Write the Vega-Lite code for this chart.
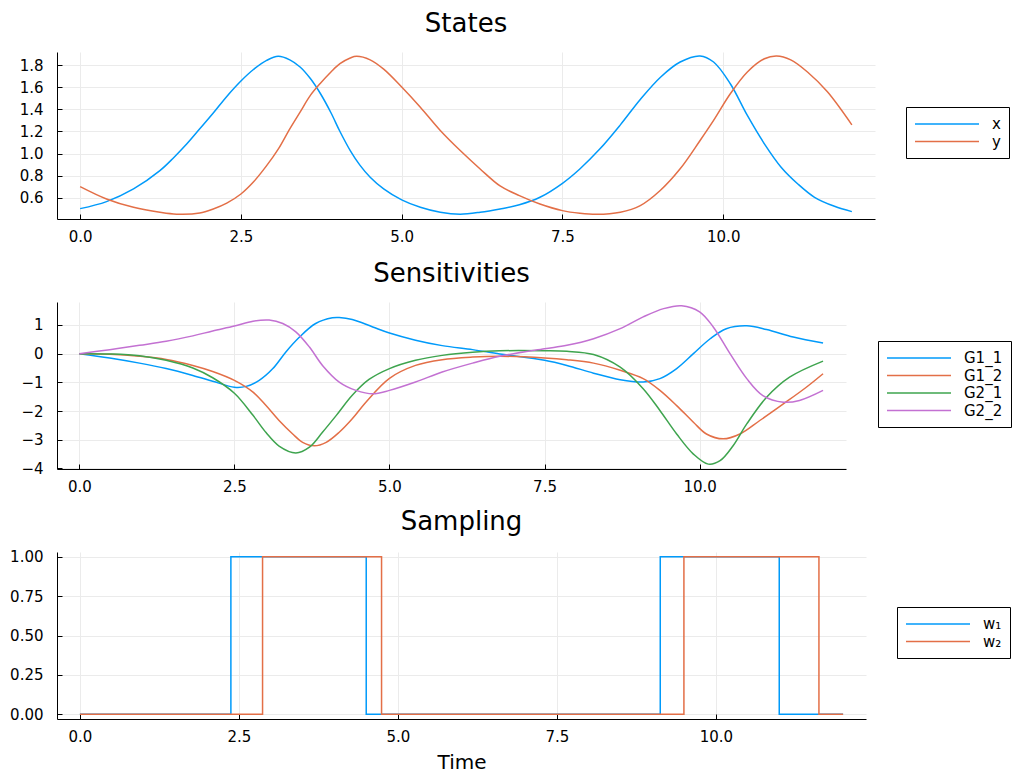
{
  "$schema": "https://vega.github.io/schema/vega-lite/v6.json",
  "padding": {"left": 9, "top": 11, "right": 0, "bottom": 0},
  "bounds": "flush",
  "spacing": 83,
  "datasets": {
    "states": [
      {"t": 0, "v": 0.5, "s": "x"}, {"t": 0.41, "v": 0.564, "s": "x"}, {"t": 0.83, "v": 0.679, "s": "x"}, {"t": 1.24, "v": 0.845, "s": "x"}, {"t": 1.45, "v": 0.96, "s": "x"}, {"t": 1.66, "v": 1.088, "s": "x"}, {"t": 1.86, "v": 1.224, "s": "x"}, {"t": 2.07, "v": 1.367, "s": "x"}, {"t": 2.28, "v": 1.518, "s": "x"}, {"t": 2.5, "v": 1.658, "s": "x"}, {"t": 2.69, "v": 1.76, "s": "x"}, {"t": 2.9, "v": 1.845, "s": "x"}, {"t": 3.08, "v": 1.882, "s": "x"}, {"t": 3.26, "v": 1.85, "s": "x"}, {"t": 3.42, "v": 1.785, "s": "x"}, {"t": 3.58, "v": 1.68, "s": "x"}, {"t": 3.74, "v": 1.54, "s": "x"}, {"t": 3.9, "v": 1.37, "s": "x"}, {"t": 4.04, "v": 1.2, "s": "x"}, {"t": 4.2, "v": 1.027, "s": "x"}, {"t": 4.35, "v": 0.895, "s": "x"}, {"t": 4.51, "v": 0.785, "s": "x"}, {"t": 4.72, "v": 0.679, "s": "x"}, {"t": 5.0, "v": 0.579, "s": "x"}, {"t": 5.29, "v": 0.512, "s": "x"}, {"t": 5.6, "v": 0.467, "s": "x"}, {"t": 5.91, "v": 0.45, "s": "x"}, {"t": 6.22, "v": 0.467, "s": "x"}, {"t": 6.53, "v": 0.497, "s": "x"}, {"t": 6.83, "v": 0.535, "s": "x"}, {"t": 7.15, "v": 0.603, "s": "x"}, {"t": 7.5, "v": 0.73, "s": "x"}, {"t": 7.77, "v": 0.86, "s": "x"}, {"t": 8.08, "v": 1.04, "s": "x"}, {"t": 8.4, "v": 1.26, "s": "x"}, {"t": 8.71, "v": 1.49, "s": "x"}, {"t": 9.02, "v": 1.69, "s": "x"}, {"t": 9.33, "v": 1.83, "s": "x"}, {"t": 9.64, "v": 1.885, "s": "x"}, {"t": 9.85, "v": 1.83, "s": "x"}, {"t": 10.11, "v": 1.633, "s": "x"}, {"t": 10.375, "v": 1.345, "s": "x"}, {"t": 10.64, "v": 1.088, "s": "x"}, {"t": 10.9, "v": 0.876, "s": "x"}, {"t": 11.16, "v": 0.724, "s": "x"}, {"t": 11.42, "v": 0.603, "s": "x"}, {"t": 11.73, "v": 0.521, "s": "x"}, {"t": 12.0, "v": 0.473, "s": "x"},
      {"t": 0, "v": 0.7, "s": "y"}, {"t": 0.41, "v": 0.588, "s": "y"}, {"t": 0.83, "v": 0.512, "s": "y"}, {"t": 1.24, "v": 0.467, "s": "y"}, {"t": 1.5, "v": 0.45, "s": "y"}, {"t": 1.86, "v": 0.46, "s": "y"}, {"t": 2.07, "v": 0.497, "s": "y"}, {"t": 2.28, "v": 0.55, "s": "y"}, {"t": 2.5, "v": 0.633, "s": "y"}, {"t": 2.69, "v": 0.739, "s": "y"}, {"t": 2.9, "v": 0.89, "s": "y"}, {"t": 3.08, "v": 1.04, "s": "y"}, {"t": 3.26, "v": 1.224, "s": "y"}, {"t": 3.42, "v": 1.376, "s": "y"}, {"t": 3.58, "v": 1.527, "s": "y"}, {"t": 3.74, "v": 1.64, "s": "y"}, {"t": 3.9, "v": 1.74, "s": "y"}, {"t": 4.04, "v": 1.815, "s": "y"}, {"t": 4.2, "v": 1.867, "s": "y"}, {"t": 4.3, "v": 1.882, "s": "y"}, {"t": 4.51, "v": 1.85, "s": "y"}, {"t": 4.72, "v": 1.765, "s": "y"}, {"t": 5.0, "v": 1.603, "s": "y"}, {"t": 5.29, "v": 1.42, "s": "y"}, {"t": 5.6, "v": 1.209, "s": "y"}, {"t": 5.91, "v": 1.027, "s": "y"}, {"t": 6.22, "v": 0.86, "s": "y"}, {"t": 6.53, "v": 0.706, "s": "y"}, {"t": 6.83, "v": 0.618, "s": "y"}, {"t": 7.15, "v": 0.542, "s": "y"}, {"t": 7.5, "v": 0.482, "s": "y"}, {"t": 7.77, "v": 0.458, "s": "y"}, {"t": 8.03, "v": 0.448, "s": "y"}, {"t": 8.4, "v": 0.467, "s": "y"}, {"t": 8.71, "v": 0.527, "s": "y"}, {"t": 9.02, "v": 0.664, "s": "y"}, {"t": 9.33, "v": 0.861, "s": "y"}, {"t": 9.64, "v": 1.118, "s": "y"}, {"t": 9.85, "v": 1.3, "s": "y"}, {"t": 10.11, "v": 1.542, "s": "y"}, {"t": 10.375, "v": 1.74, "s": "y"}, {"t": 10.64, "v": 1.86, "s": "y"}, {"t": 10.83, "v": 1.885, "s": "y"}, {"t": 11.05, "v": 1.85, "s": "y"}, {"t": 11.31, "v": 1.74, "s": "y"}, {"t": 11.62, "v": 1.56, "s": "y"}, {"t": 12.0, "v": 1.26, "s": "y"}
    ],
    "sens": [
      {"t": 0, "v": 0, "s": "G1_1"}, {"t": 0.49, "v": -0.15, "s": "G1_1"}, {"t": 0.97, "v": -0.33, "s": "G1_1"}, {"t": 1.4, "v": -0.52, "s": "G1_1"}, {"t": 1.83, "v": -0.76, "s": "G1_1"}, {"t": 2.15, "v": -0.96, "s": "G1_1"}, {"t": 2.5, "v": -1.17, "s": "G1_1"}, {"t": 2.69, "v": -1.14, "s": "G1_1"}, {"t": 2.9, "v": -0.93, "s": "G1_1"}, {"t": 3.12, "v": -0.52, "s": "G1_1"}, {"t": 3.33, "v": 0.06, "s": "G1_1"}, {"t": 3.55, "v": 0.58, "s": "G1_1"}, {"t": 3.81, "v": 1.05, "s": "G1_1"}, {"t": 4.08, "v": 1.25, "s": "G1_1"}, {"t": 4.19, "v": 1.26, "s": "G1_1"}, {"t": 4.4, "v": 1.19, "s": "G1_1"}, {"t": 4.73, "v": 0.93, "s": "G1_1"}, {"t": 5.0, "v": 0.72, "s": "G1_1"}, {"t": 5.42, "v": 0.47, "s": "G1_1"}, {"t": 5.85, "v": 0.28, "s": "G1_1"}, {"t": 6.34, "v": 0.14, "s": "G1_1"}, {"t": 6.78, "v": -0.01, "s": "G1_1"}, {"t": 7.5, "v": -0.23, "s": "G1_1"}, {"t": 7.86, "v": -0.41, "s": "G1_1"}, {"t": 8.29, "v": -0.68, "s": "G1_1"}, {"t": 8.72, "v": -0.91, "s": "G1_1"}, {"t": 9.09, "v": -0.99, "s": "G1_1"}, {"t": 9.36, "v": -0.87, "s": "G1_1"}, {"t": 9.63, "v": -0.52, "s": "G1_1"}, {"t": 9.9, "v": 0.0, "s": "G1_1"}, {"t": 10.17, "v": 0.52, "s": "G1_1"}, {"t": 10.43, "v": 0.87, "s": "G1_1"}, {"t": 10.76, "v": 0.97, "s": "G1_1"}, {"t": 11.08, "v": 0.84, "s": "G1_1"}, {"t": 11.51, "v": 0.58, "s": "G1_1"}, {"t": 11.99, "v": 0.37, "s": "G1_1"},
      {"t": 0, "v": 0, "s": "G1_2"}, {"t": 0.49, "v": -0.02, "s": "G1_2"}, {"t": 0.97, "v": -0.09, "s": "G1_2"}, {"t": 1.4, "v": -0.2, "s": "G1_2"}, {"t": 1.83, "v": -0.41, "s": "G1_2"}, {"t": 2.15, "v": -0.62, "s": "G1_2"}, {"t": 2.5, "v": -0.93, "s": "G1_2"}, {"t": 2.8, "v": -1.34, "s": "G1_2"}, {"t": 3.01, "v": -1.81, "s": "G1_2"}, {"t": 3.22, "v": -2.33, "s": "G1_2"}, {"t": 3.44, "v": -2.8, "s": "G1_2"}, {"t": 3.6, "v": -3.09, "s": "G1_2"}, {"t": 3.79, "v": -3.21, "s": "G1_2"}, {"t": 3.98, "v": -3.09, "s": "G1_2"}, {"t": 4.19, "v": -2.74, "s": "G1_2"}, {"t": 4.4, "v": -2.27, "s": "G1_2"}, {"t": 4.62, "v": -1.69, "s": "G1_2"}, {"t": 5.0, "v": -0.86, "s": "G1_2"}, {"t": 5.42, "v": -0.41, "s": "G1_2"}, {"t": 5.85, "v": -0.21, "s": "G1_2"}, {"t": 6.34, "v": -0.12, "s": "G1_2"}, {"t": 6.78, "v": -0.09, "s": "G1_2"}, {"t": 7.5, "v": -0.15, "s": "G1_2"}, {"t": 7.86, "v": -0.21, "s": "G1_2"}, {"t": 8.29, "v": -0.33, "s": "G1_2"}, {"t": 8.72, "v": -0.58, "s": "G1_2"}, {"t": 9.09, "v": -0.87, "s": "G1_2"}, {"t": 9.36, "v": -1.28, "s": "G1_2"}, {"t": 9.63, "v": -1.81, "s": "G1_2"}, {"t": 9.9, "v": -2.39, "s": "G1_2"}, {"t": 10.11, "v": -2.8, "s": "G1_2"}, {"t": 10.38, "v": -2.97, "s": "G1_2"}, {"t": 10.65, "v": -2.8, "s": "G1_2"}, {"t": 10.97, "v": -2.33, "s": "G1_2"}, {"t": 11.35, "v": -1.75, "s": "G1_2"}, {"t": 11.72, "v": -1.17, "s": "G1_2"}, {"t": 11.99, "v": -0.7, "s": "G1_2"},
      {"t": 0, "v": 0, "s": "G2_1"}, {"t": 0.49, "v": -0.01, "s": "G2_1"}, {"t": 0.97, "v": -0.07, "s": "G2_1"}, {"t": 1.4, "v": -0.23, "s": "G2_1"}, {"t": 1.83, "v": -0.5, "s": "G2_1"}, {"t": 2.15, "v": -0.84, "s": "G2_1"}, {"t": 2.5, "v": -1.38, "s": "G2_1"}, {"t": 2.8, "v": -2.15, "s": "G2_1"}, {"t": 3.01, "v": -2.75, "s": "G2_1"}, {"t": 3.22, "v": -3.22, "s": "G2_1"}, {"t": 3.49, "v": -3.46, "s": "G2_1"}, {"t": 3.71, "v": -3.26, "s": "G2_1"}, {"t": 3.92, "v": -2.74, "s": "G2_1"}, {"t": 4.14, "v": -2.16, "s": "G2_1"}, {"t": 4.4, "v": -1.45, "s": "G2_1"}, {"t": 4.67, "v": -0.9, "s": "G2_1"}, {"t": 5.0, "v": -0.52, "s": "G2_1"}, {"t": 5.42, "v": -0.23, "s": "G2_1"}, {"t": 5.85, "v": -0.06, "s": "G2_1"}, {"t": 6.34, "v": 0.05, "s": "G2_1"}, {"t": 6.78, "v": 0.1, "s": "G2_1"}, {"t": 7.5, "v": 0.1, "s": "G2_1"}, {"t": 7.86, "v": 0.08, "s": "G2_1"}, {"t": 8.29, "v": -0.03, "s": "G2_1"}, {"t": 8.72, "v": -0.47, "s": "G2_1"}, {"t": 9.09, "v": -1.22, "s": "G2_1"}, {"t": 9.36, "v": -1.98, "s": "G2_1"}, {"t": 9.63, "v": -2.8, "s": "G2_1"}, {"t": 9.9, "v": -3.5, "s": "G2_1"}, {"t": 10.14, "v": -3.85, "s": "G2_1"}, {"t": 10.33, "v": -3.73, "s": "G2_1"}, {"t": 10.54, "v": -3.21, "s": "G2_1"}, {"t": 10.76, "v": -2.45, "s": "G2_1"}, {"t": 11.08, "v": -1.52, "s": "G2_1"}, {"t": 11.45, "v": -0.82, "s": "G2_1"}, {"t": 11.99, "v": -0.26, "s": "G2_1"},
      {"t": 0, "v": 0, "s": "G2_2"}, {"t": 0.49, "v": 0.14, "s": "G2_2"}, {"t": 0.97, "v": 0.29, "s": "G2_2"}, {"t": 1.4, "v": 0.43, "s": "G2_2"}, {"t": 1.83, "v": 0.62, "s": "G2_2"}, {"t": 2.15, "v": 0.79, "s": "G2_2"}, {"t": 2.5, "v": 0.96, "s": "G2_2"}, {"t": 2.8, "v": 1.13, "s": "G2_2"}, {"t": 3.06, "v": 1.17, "s": "G2_2"}, {"t": 3.28, "v": 1.05, "s": "G2_2"}, {"t": 3.49, "v": 0.76, "s": "G2_2"}, {"t": 3.71, "v": 0.23, "s": "G2_2"}, {"t": 3.92, "v": -0.41, "s": "G2_2"}, {"t": 4.19, "v": -0.99, "s": "G2_2"}, {"t": 4.46, "v": -1.28, "s": "G2_2"}, {"t": 4.73, "v": -1.4, "s": "G2_2"}, {"t": 5.0, "v": -1.28, "s": "G2_2"}, {"t": 5.42, "v": -0.99, "s": "G2_2"}, {"t": 5.85, "v": -0.64, "s": "G2_2"}, {"t": 6.34, "v": -0.33, "s": "G2_2"}, {"t": 6.78, "v": -0.09, "s": "G2_2"}, {"t": 7.5, "v": 0.17, "s": "G2_2"}, {"t": 7.86, "v": 0.29, "s": "G2_2"}, {"t": 8.29, "v": 0.52, "s": "G2_2"}, {"t": 8.72, "v": 0.87, "s": "G2_2"}, {"t": 9.09, "v": 1.28, "s": "G2_2"}, {"t": 9.42, "v": 1.57, "s": "G2_2"}, {"t": 9.71, "v": 1.67, "s": "G2_2"}, {"t": 10.0, "v": 1.46, "s": "G2_2"}, {"t": 10.22, "v": 0.93, "s": "G2_2"}, {"t": 10.49, "v": 0.0, "s": "G2_2"}, {"t": 10.76, "v": -0.87, "s": "G2_2"}, {"t": 11.02, "v": -1.46, "s": "G2_2"}, {"t": 11.35, "v": -1.69, "s": "G2_2"}, {"t": 11.61, "v": -1.63, "s": "G2_2"}, {"t": 11.99, "v": -1.28, "s": "G2_2"}
    ],
    "samp": [
      {"t": 0, "v": 0, "s": "w₁"}, {"t": 2.374, "v": 1, "s": "w₁"}, {"t": 4.502, "v": 0, "s": "w₁"}, {"t": 9.125, "v": 1, "s": "w₁"}, {"t": 10.996, "v": 0, "s": "w₁"}, {"t": 12, "v": 0, "s": "w₁"},
      {"t": 0, "v": 0, "s": "w₂"}, {"t": 2.872, "v": 1, "s": "w₂"}, {"t": 4.743, "v": 0, "s": "w₂"}, {"t": 9.497, "v": 1, "s": "w₂"}, {"t": 11.62, "v": 0, "s": "w₂"}, {"t": 12, "v": 0, "s": "w₂"}
    ]
  },
  "vconcat": [
    {
      "width": 818, "height": 167,
      "title": {"text": "States"},
      "data": {"name": "states"},
      "mark": {"type": "line", "interpolate": "catmull-rom", "strokeWidth": 1.5, "clip": true},
      "encoding": {
        "x": {"field": "t", "type": "quantitative", "scale": {"domain": [-0.36, 12.36], "nice": false, "zero": false},
              "axis": {"values": [0, 2.5, 5, 7.5, 10], "format": ".1f", "title": null}},
        "y": {"field": "v", "type": "quantitative", "scale": {"domain": [0.406, 1.921], "nice": false, "zero": false},
              "axis": {"values": [0.6, 0.8, 1.0, 1.2, 1.4, 1.6, 1.8], "format": ".1f", "title": null}},
        "color": {"field": "s", "type": "nominal",
                  "scale": {"domain": ["x", "y"], "range": ["#009AFA", "#E36F47"]},
                  "legend": {"legendX": 849, "legendY": 55}}
      }
    },
    {
      "width": 789, "height": 167,
      "title": {"text": "Sensitivities"},
      "data": {"name": "sens"},
      "mark": {"type": "line", "interpolate": "catmull-rom", "strokeWidth": 1.5, "clip": true},
      "encoding": {
        "x": {"field": "t", "type": "quantitative", "scale": {"domain": [-0.36, 12.36], "nice": false, "zero": false},
              "axis": {"values": [0, 2.5, 5, 7.5, 10], "format": ".1f", "title": null}},
        "y": {"field": "v", "type": "quantitative", "scale": {"domain": [-4.02, 1.8], "nice": false, "zero": false},
              "axis": {"values": [-4, -3, -2, -1, 0, 1], "format": "d", "title": null}},
        "color": {"field": "s", "type": "nominal",
                  "scale": {"domain": ["G1_1", "G1_2", "G2_1", "G2_2"], "range": ["#009AFA", "#E36F47", "#3EA44E", "#C371D2"]},
                  "legend": {"legendX": 821, "legendY": 39}}
      }
    },
    {
      "width": 809, "height": 167,
      "title": {"text": "Sampling"},
      "data": {"name": "samp"},
      "mark": {"type": "line", "interpolate": "step-after", "strokeWidth": 1.5, "clip": true},
      "encoding": {
        "x": {"field": "t", "type": "quantitative", "scale": {"domain": [-0.36, 12.36], "nice": false, "zero": false},
              "axis": {"values": [0, 2.5, 5, 7.5, 10], "format": ".1f", "title": "Time"}},
        "y": {"field": "v", "type": "quantitative", "scale": {"domain": [-0.03, 1.03], "nice": false, "zero": false},
              "axis": {"values": [0, 0.25, 0.5, 0.75, 1.0], "format": ".2f", "title": null}},
        "color": {"field": "s", "type": "nominal",
                  "scale": {"domain": ["w₁", "w₂"], "range": ["#009AFA", "#E36F47"]},
                  "legend": {"legendX": 840, "legendY": 55}}
      }
    }
  ],
  "resolve": {"scale": {"color": "independent", "x": "independent", "y": "independent"}},
  "config": {
    "font": "DejaVu Sans",
    "background": "white",
    "view": {"stroke": null},
    "title": {"fontSize": 26, "fontWeight": "normal", "color": "black", "frame": "group", "anchor": "middle", "baseline": "alphabetic", "offset": 15},
    "axis": {
      "domainColor": "black", "domainWidth": 1, "tickColor": "black", "tickSize": -5, "tickWidth": 1,
      "gridColor": "#ebebeb", "gridWidth": 1,
      "labelColor": "black", "labelFontSize": 15, "labelFont": "DejaVu Sans",
      "titleFontSize": 20, "titleFontWeight": "normal", "titleColor": "black", "titleFont": "DejaVu Sans"
    },
    "axisX": {"labelPadding": 15, "titlePadding": 8},
    "axisY": {"labelPadding": 19},
    "legend": {
      "orient": "none", "title": null, "symbolType": "M-1,0H7", "symbolSize": 256, "symbolStrokeWidth": 1.5,
      "symbolFillColor": "transparent",
      "strokeColor": "black", "fillColor": "white", "padding": 8, "cornerRadius": 0,
      "labelFontSize": 15, "labelFont": "DejaVu Sans", "labelColor": "black", "labelOffset": 60, "rowPadding": 0.5
    }
  }
}
